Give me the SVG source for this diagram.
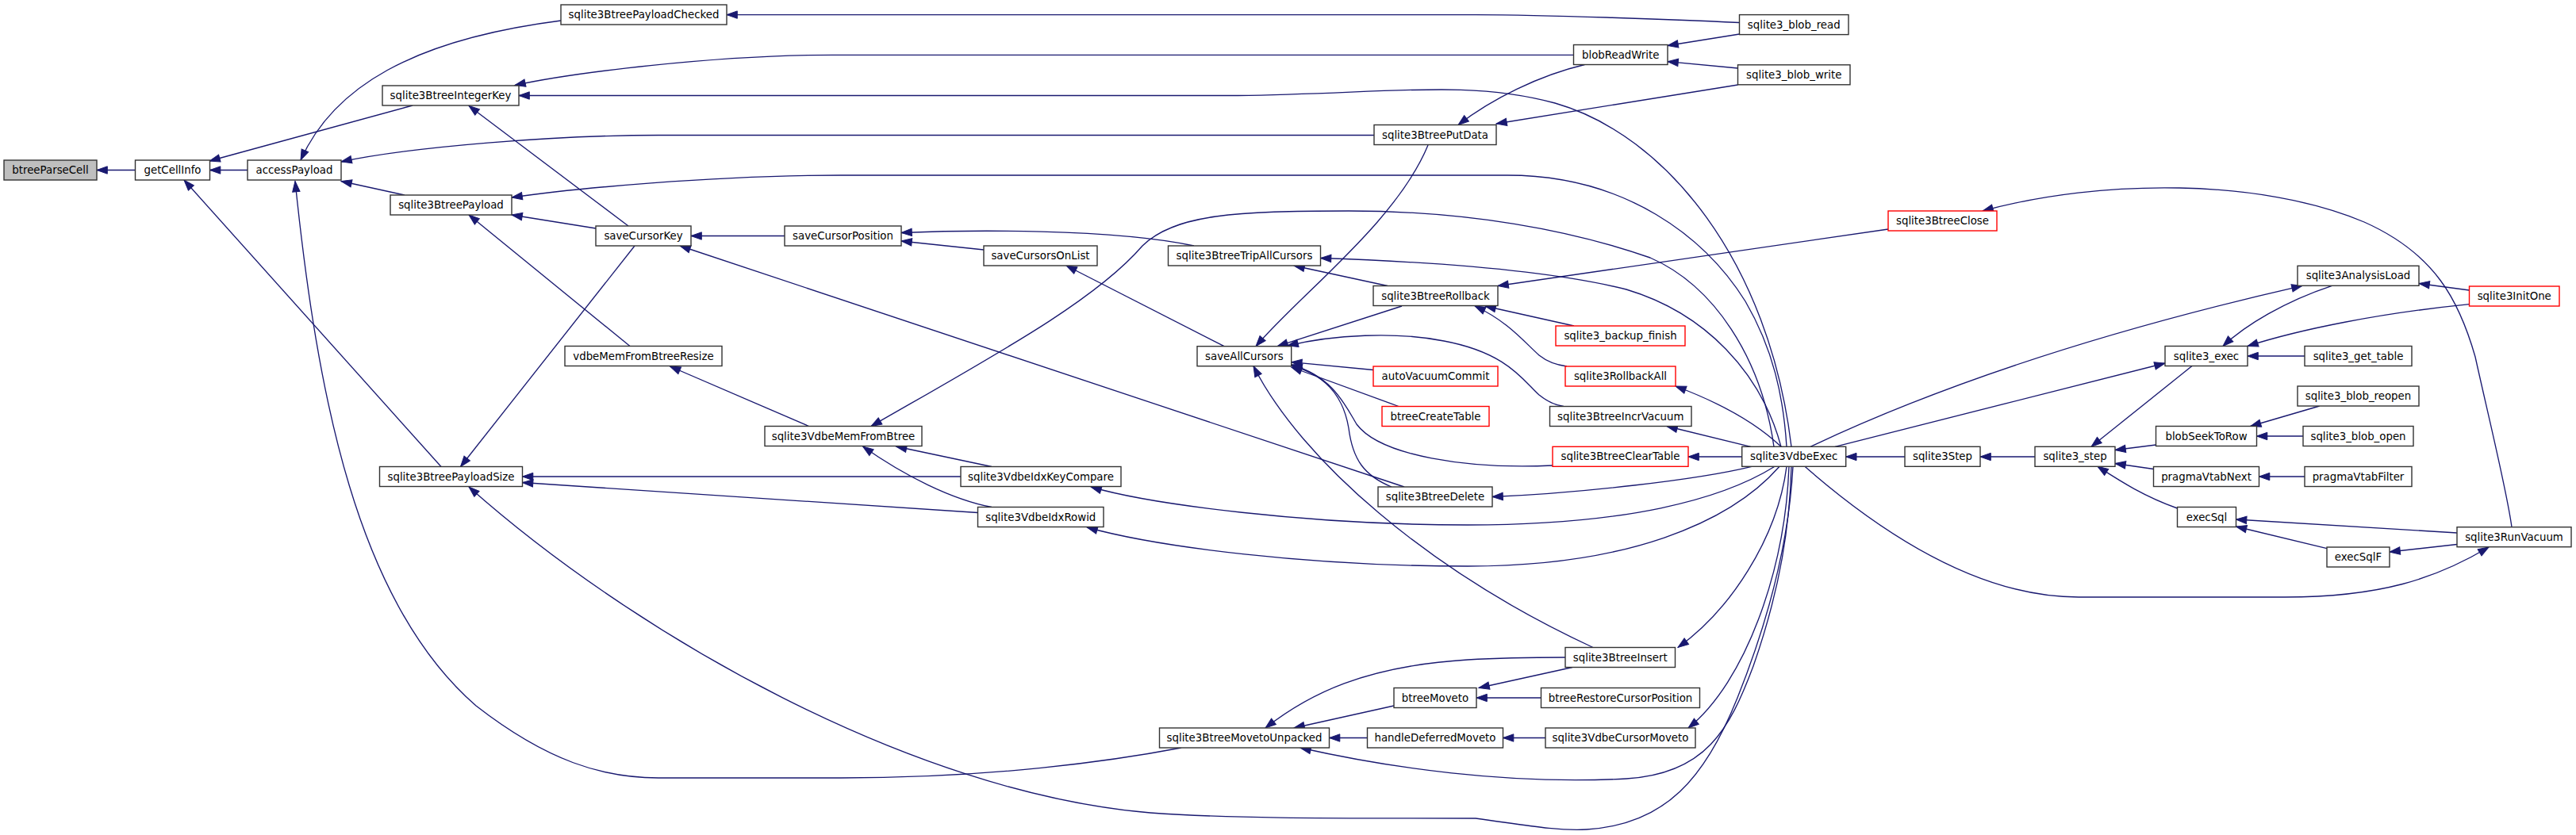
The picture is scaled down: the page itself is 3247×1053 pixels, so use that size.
<svg xmlns="http://www.w3.org/2000/svg" width="3247" height="1053" viewBox="0 0 3247 1053">
<style>
.n rect{fill:#fff;stroke:#333;stroke-width:1.4}
.n.red rect{stroke:#ff0000}
.n.root rect{fill:#bfbfbf}
.n text{font-family:"DejaVu Sans","Liberation Sans",sans-serif;font-size:13.33px;text-anchor:middle;fill:#000}
#edges path{fill:none;stroke:#191970;stroke-width:1.33;marker-start:url(#arr)}
</style>
<defs>
<marker id="arr" markerUnits="userSpaceOnUse" markerWidth="15" markerHeight="11" refX="13.3" refY="4.7" orient="auto-start-reverse" overflow="visible">
<path d="M0,0 L13.3,4.7 L0,9.4 z" fill="#191970" stroke="#191970" stroke-width="1"/>
</marker>
</defs>
<rect width="3247" height="1053" fill="#fff"/>
<g id="edges">
<path d="M122,214.5 L170.5,214.5"/>
<path d="M264.5,214.5 L312,214.5"/>
<path d="M264,203 L520,133"/>
<path d="M232,227 L556,588.5"/>
<path d="M379,202 C420,110 520,50 707,26"/>
<path d="M430,204 C520,185 700,170.5 830,170.5 L1732,170.5"/>
<path d="M430,228.5 L510,246"/>
<path d="M372,228.5 C400,500 450,760 600,890 C690,960 760,981 830,981 L1060,981 C1250,981 1400,960 1489,943"/>
<path d="M649,107.5 C720,92 900,69.3 1050,69.3 L1983.5,69.3"/>
<path d="M654,120.5 L1560,120.5 C1750,118 1850,100 1960,130 C2100,170 2230,330 2258,563.3"/>
<path d="M591,133.5 L792,285"/>
<path d="M645,271 L751,288"/>
<path d="M645,249 C720,238 900,221 1060,221 L1900,221 C2050,221 2150,300 2200,380 C2235,440 2248,500 2252,563.3"/>
<path d="M591,271 L794,436.5"/>
<path d="M871,297.5 L989,297.5"/>
<path d="M580.5,588.5 L800,310"/>
<path d="M857,310 L1770,614"/>
<path d="M1136,304 L1240,315"/>
<path d="M1136,293.5 C1220,290 1400,288 1505,310"/>
<path d="M1344,335 L1543,436.7"/>
<path d="M1664.5,325.5 C1800,330 1950,340 2050,365 C2150,395 2220,470 2245,563.3"/>
<path d="M1631,335 L1749,360.5"/>
<path d="M1583,436.7 C1640,370 1760,280 1800,183"/>
<path d="M1098,537.5 C1250,450 1380,380 1440,310 C1480,270 1560,266 1700,266 C1850,266 1980,290 2080,325 C2160,360 2220,450 2236,563.3"/>
<path d="M844.5,462 L1019.6,537.5"/>
<path d="M1129.5,563 L1250,588.5"/>
<path d="M1087.6,563 C1140,600 1200,630 1250,639.5"/>
<path d="M658.5,601 L1211,601"/>
<path d="M658.5,608.5 L1232.5,646.5"/>
<path d="M1375,614 C1450,636 1650,662 1850,662 C2050,662 2170,630 2237,588.3"/>
<path d="M1370,665 C1460,690 1650,714 1850,714 C2050,714 2180,660 2243,588.3"/>
<path d="M1595,918 C1650,875 1720,840 1850,832 C1900,829 1940,829 1973,829"/>
<path d="M1631,918 L1757,890"/>
<path d="M1675.5,930.5 L1723.5,930.5"/>
<path d="M1639,943 C1750,968 1900,990 2050,982 C2150,976 2180,920 2210,840 C2245,740 2256,660 2258,588.3"/>
<path d="M1864,867.5 L1982,841.5"/>
<path d="M1861,880 L1942.5,880"/>
<path d="M1894.5,930.5 L1948,930.5"/>
<path d="M2128,918 C2200,860 2250,720 2255,588.3"/>
<path d="M2115,816.5 C2180,770 2240,680 2252,588.3"/>
<path d="M1580,461.7 C1640,580 1800,720 2008,816.5"/>
<path d="M1881,626.5 C1990,622 2140,605 2208,588.3"/>
<path d="M2128,576 L2195.7,576"/>
<path d="M2101,537.5 L2206.7,563.3"/>
<path d="M2112,487 C2160,505 2210,530 2245,563.3"/>
<path d="M2902,360.3 C2750,395 2500,460 2282,563.3"/>
<path d="M2729,458 L2313,563.3"/>
<path d="M3137,690 C3070,730 3000,753 2880,753 L2620,753 C2500,753 2380,680 2275,588.3"/>
<path d="M2499,266 C2650,225 2850,225 2980,280 C3070,320 3100,380 3120,450 C3140,540 3160,620 3166,664.7"/>
<path d="M1888,360.5 L2380,289"/>
<path d="M1872,386 L1984,411"/>
<path d="M1859,386 C1900,405 1920,430 1940,448 C1950,456 1960,460 1975,462"/>
<path d="M1610,436.7 L1767,386"/>
<path d="M1623,436 C1680,422 1760,418 1820,430 C1900,445 1920,480 1940,498 C1950,506 1960,511 1971,512.5"/>
<path d="M1627.7,456.7 L1731,466.5"/>
<path d="M1627.7,463 L1763,512.5"/>
<path d="M1627.7,460 C1680,475 1695,510 1710,535 C1740,575 1850,592 1957,587"/>
<path d="M1627.7,461 C1680,475 1695,510 1700,540 C1705,580 1720,600 1754,614"/>
<path d="M1838,157.5 C1880,125 1940,95 1997.5,81.5"/>
<path d="M1886,156 L2190.5,107"/>
<path d="M2102,57.5 L2192.5,43"/>
<path d="M2102,77.7 L2190.5,86"/>
<path d="M916,18.6 L1860,18.6 C1950,19 2100,24 2192.5,28.5"/>
<path d="M2326.7,576 L2401,576"/>
<path d="M2496,576 L2565,576"/>
<path d="M2666,567.5 L2717.5,561"/>
<path d="M2666,584.5 L2714.5,591.5"/>
<path d="M2644,588.3 C2670,605 2700,625 2744.5,641"/>
<path d="M2636,563.3 L2763,461.5"/>
<path d="M2836.6,537.5 L2923.7,512"/>
<path d="M2844.5,550 L2903,550"/>
<path d="M2847.5,601 L2905,601"/>
<path d="M2818.5,655 L3097,672"/>
<path d="M2818.5,664 L2933,691.7"/>
<path d="M3012,696 L3097,686.5"/>
<path d="M2833,449 L2905,449"/>
<path d="M2802,436.5 C2830,410 2880,380 2939.5,360.3"/>
<path d="M2833,436.5 C2900,415 3000,395 3112.5,383.6"/>
<path d="M3049,357.5 L3112.5,366"/>
<path d="M591,614 C800,800 1150,1000 1450,1025 C1550,1032 1650,1032 1860,1032 C1920,1040 1960,1048 2000,1046 C2100,1040 2150,980 2190,880 C2230,780 2255,680 2260,588.3"/>
</g>
<g id="n_btreeParseCell" class="n root"><rect x="5" y="202" width="117" height="25"/><text x="63.5" y="219">btreeParseCell</text></g>
<g id="n_getCellInfo" class="n"><rect x="170.5" y="202" width="94" height="25"/><text x="217.5" y="219">getCellInfo</text></g>
<g id="n_accessPayload" class="n"><rect x="312" y="202" width="118" height="25"/><text x="371" y="219">accessPayload</text></g>
<g id="n_sqlite3BtreeIntegerKey" class="n"><rect x="482" y="108" width="172" height="25"/><text x="568" y="125">sqlite3BtreeIntegerKey</text></g>
<g id="n_sqlite3BtreePayload" class="n"><rect x="492" y="246" width="153" height="25"/><text x="568.5" y="263">sqlite3BtreePayload</text></g>
<g id="n_sqlite3BtreePayloadSize" class="n"><rect x="478.5" y="588.5" width="180" height="25"/><text x="568.5" y="605.5">sqlite3BtreePayloadSize</text></g>
<g id="n_sqlite3BtreePayloadChecked" class="n"><rect x="707" y="6" width="209" height="25"/><text x="811.5" y="23">sqlite3BtreePayloadChecked</text></g>
<g id="n_saveCursorKey" class="n"><rect x="751" y="285" width="120" height="25"/><text x="811" y="302">saveCursorKey</text></g>
<g id="n_vdbeMemFromBtreeResize" class="n"><rect x="712" y="436.5" width="198" height="25"/><text x="811" y="453.5">vdbeMemFromBtreeResize</text></g>
<g id="n_saveCursorPosition" class="n"><rect x="989" y="285" width="147" height="25"/><text x="1062.5" y="302">saveCursorPosition</text></g>
<g id="n_sqlite3VdbeMemFromBtree" class="n"><rect x="964" y="537.5" width="198" height="25"/><text x="1063" y="554.5">sqlite3VdbeMemFromBtree</text></g>
<g id="n_saveCursorsOnList" class="n"><rect x="1240" y="310" width="143" height="25"/><text x="1311.5" y="327">saveCursorsOnList</text></g>
<g id="n_sqlite3VdbeIdxKeyCompare" class="n"><rect x="1211" y="588.5" width="202" height="25"/><text x="1312" y="605.5">sqlite3VdbeIdxKeyCompare</text></g>
<g id="n_sqlite3VdbeIdxRowid" class="n"><rect x="1232.5" y="639.5" width="158.5" height="25"/><text x="1311.75" y="656.5">sqlite3VdbeIdxRowid</text></g>
<g id="n_sqlite3BtreeTripAllCursors" class="n"><rect x="1472.5" y="310" width="192" height="25"/><text x="1568.5" y="327">sqlite3BtreeTripAllCursors</text></g>
<g id="n_saveAllCursors" class="n"><rect x="1509" y="436.7" width="118.7" height="25"/><text x="1568.35" y="453.7">saveAllCursors</text></g>
<g id="n_sqlite3BtreeMovetoUnpacked" class="n"><rect x="1461.5" y="918" width="214" height="25"/><text x="1568.5" y="935">sqlite3BtreeMovetoUnpacked</text></g>
<g id="n_sqlite3BtreePutData" class="n"><rect x="1732" y="157.5" width="154" height="25"/><text x="1809" y="174.5">sqlite3BtreePutData</text></g>
<g id="n_sqlite3BtreeRollback" class="n"><rect x="1731" y="360.5" width="157" height="25"/><text x="1809.5" y="377.5">sqlite3BtreeRollback</text></g>
<g id="n_autoVacuumCommit" class="n red"><rect x="1731" y="462" width="157" height="25"/><text x="1809.5" y="479">autoVacuumCommit</text></g>
<g id="n_btreeCreateTable" class="n red"><rect x="1742" y="512.5" width="135" height="25"/><text x="1809.5" y="529.5">btreeCreateTable</text></g>
<g id="n_sqlite3BtreeDelete" class="n"><rect x="1737" y="614" width="144" height="25"/><text x="1809" y="631">sqlite3BtreeDelete</text></g>
<g id="n_btreeMoveto" class="n"><rect x="1757" y="867.5" width="104" height="25"/><text x="1809" y="884.5">btreeMoveto</text></g>
<g id="n_handleDeferredMoveto" class="n"><rect x="1723.5" y="918" width="171" height="25"/><text x="1809" y="935">handleDeferredMoveto</text></g>
<g id="n_blobReadWrite" class="n"><rect x="1983.5" y="56.5" width="118.5" height="25"/><text x="2042.75" y="73.5">blobReadWrite</text></g>
<g id="n_sqlite3_backup_finish" class="n red"><rect x="1961" y="411" width="163" height="25"/><text x="2042.5" y="428">sqlite3_backup_finish</text></g>
<g id="n_sqlite3RollbackAll" class="n red"><rect x="1973" y="462" width="139" height="25"/><text x="2042.5" y="479">sqlite3RollbackAll</text></g>
<g id="n_sqlite3BtreeIncrVacuum" class="n"><rect x="1953.5" y="512.5" width="178.5" height="25"/><text x="2042.75" y="529.5">sqlite3BtreeIncrVacuum</text></g>
<g id="n_sqlite3BtreeClearTable" class="n red"><rect x="1957" y="563.3" width="171" height="25"/><text x="2042.5" y="580.3">sqlite3BtreeClearTable</text></g>
<g id="n_sqlite3BtreeInsert" class="n"><rect x="1973" y="816.5" width="138.5" height="25"/><text x="2042.25" y="833.5">sqlite3BtreeInsert</text></g>
<g id="n_btreeRestoreCursorPosition" class="n"><rect x="1942.5" y="867.5" width="200" height="25"/><text x="2042.5" y="884.5">btreeRestoreCursorPosition</text></g>
<g id="n_sqlite3VdbeCursorMoveto" class="n"><rect x="1948" y="918" width="189" height="25"/><text x="2042.5" y="935">sqlite3VdbeCursorMoveto</text></g>
<g id="n_sqlite3_blob_read" class="n"><rect x="2192.5" y="18.6" width="137.5" height="25"/><text x="2261.25" y="35.6">sqlite3_blob_read</text></g>
<g id="n_sqlite3_blob_write" class="n"><rect x="2190.5" y="81.8" width="141.5" height="25"/><text x="2261.25" y="98.8">sqlite3_blob_write</text></g>
<g id="n_sqlite3VdbeExec" class="n"><rect x="2195.7" y="563.3" width="131" height="25"/><text x="2261.2" y="580.3">sqlite3VdbeExec</text></g>
<g id="n_sqlite3BtreeClose" class="n red"><rect x="2380" y="266" width="137" height="25"/><text x="2448.5" y="283">sqlite3BtreeClose</text></g>
<g id="n_sqlite3Step" class="n"><rect x="2401" y="563.3" width="95" height="25"/><text x="2448.5" y="580.3">sqlite3Step</text></g>
<g id="n_sqlite3_step" class="n"><rect x="2565" y="563.3" width="101" height="25"/><text x="2615.5" y="580.3">sqlite3_step</text></g>
<g id="n_sqlite3_exec" class="n"><rect x="2729" y="436.5" width="104" height="25"/><text x="2781" y="453.5">sqlite3_exec</text></g>
<g id="n_blobSeekToRow" class="n"><rect x="2717.5" y="537.5" width="127" height="25"/><text x="2781" y="554.5">blobSeekToRow</text></g>
<g id="n_pragmaVtabNext" class="n"><rect x="2714.5" y="588.5" width="133" height="25"/><text x="2781" y="605.5">pragmaVtabNext</text></g>
<g id="n_execSql" class="n"><rect x="2744.5" y="639.5" width="74" height="25"/><text x="2781.5" y="656.5">execSql</text></g>
<g id="n_sqlite3AnalysisLoad" class="n"><rect x="2896" y="335.3" width="153" height="25"/><text x="2972.5" y="352.3">sqlite3AnalysisLoad</text></g>
<g id="n_sqlite3_get_table" class="n"><rect x="2905" y="436.5" width="135" height="25"/><text x="2972.5" y="453.5">sqlite3_get_table</text></g>
<g id="n_sqlite3_blob_reopen" class="n"><rect x="2896" y="487" width="153" height="25"/><text x="2972.5" y="504">sqlite3_blob_reopen</text></g>
<g id="n_sqlite3_blob_open" class="n"><rect x="2903" y="537.5" width="139" height="25"/><text x="2972.5" y="554.5">sqlite3_blob_open</text></g>
<g id="n_pragmaVtabFilter" class="n"><rect x="2905" y="588.5" width="135" height="25"/><text x="2972.5" y="605.5">pragmaVtabFilter</text></g>
<g id="n_execSqlF" class="n"><rect x="2933" y="690" width="79" height="25"/><text x="2972.5" y="707">execSqlF</text></g>
<g id="n_sqlite3InitOne" class="n red"><rect x="3112.5" y="361" width="113.5" height="25"/><text x="3169.25" y="378">sqlite3InitOne</text></g>
<g id="n_sqlite3RunVacuum" class="n"><rect x="3097" y="664.7" width="144" height="25"/><text x="3169" y="681.7">sqlite3RunVacuum</text></g>
</svg>
